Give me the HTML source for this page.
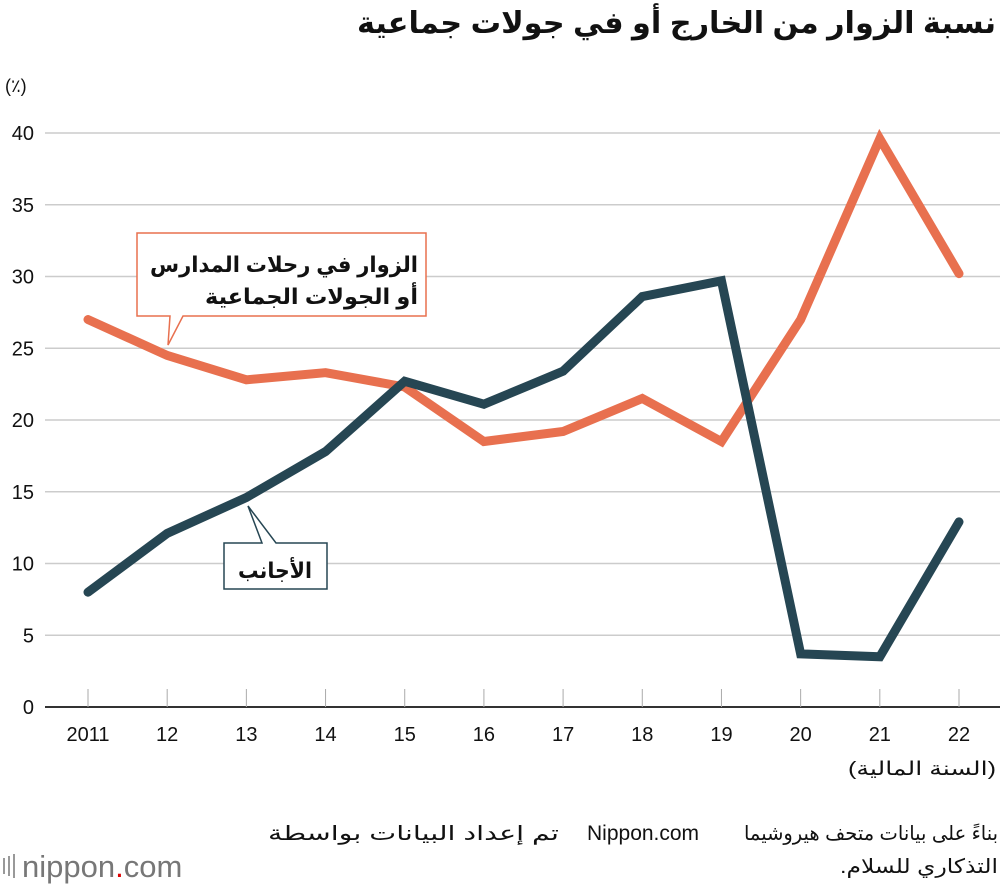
<!DOCTYPE html>
<html><head><meta charset="utf-8"><style>
html,body{margin:0;padding:0;background:#fff;}
body{width:1000px;height:890px;overflow:hidden;font-family:"Liberation Sans","DejaVu Sans",sans-serif;}
</style></head><body>
<svg id="c" width="1000" height="890" xmlns="http://www.w3.org/2000/svg" style="font-family:'Liberation Sans','DejaVu Sans',sans-serif">
<text x="996" y="33" text-anchor="start" direction="rtl" font-size="30" font-weight="bold" fill="#111" textLength="639" lengthAdjust="spacingAndGlyphs">نسبة الزوار من الخارج أو في جولات جماعية</text>
<text x="5" y="92" font-size="18" fill="#111">(٪)</text>
<g id="grid"></g><g id="lines"></g>
<g>
<path d="M137 233 H426 V316 H183 L168 345 L170 316 H137 Z" fill="#fff" stroke="#e8704f" stroke-width="1.5"/>
<text x="418" y="272" text-anchor="start" direction="rtl" font-size="22" font-weight="bold" fill="#111" textLength="268" lengthAdjust="spacingAndGlyphs">الزوار في رحلات المدارس</text>
<text x="418" y="304" text-anchor="start" direction="rtl" font-size="22" font-weight="bold" fill="#111" textLength="213" lengthAdjust="spacingAndGlyphs">أو الجولات الجماعية</text>
</g>
<g>
<path d="M224 543 H262 L248 506 L276 543 H327 V589 H224 Z" fill="#fff" stroke="#264653" stroke-width="1.5"/>
<text x="312" y="578" text-anchor="start" direction="rtl" font-size="22" font-weight="bold" fill="#111" textLength="74" lengthAdjust="spacingAndGlyphs">الأجانب</text>
</g>
<text x="996" y="775" text-anchor="start" direction="rtl" font-size="19" fill="#111" textLength="148" lengthAdjust="spacingAndGlyphs">(السنة المالية)</text>
<g font-size="20" fill="#111">
<text x="998" y="840" text-anchor="start" direction="rtl" textLength="254" lengthAdjust="spacingAndGlyphs">بناءً على بيانات متحف هيروشيما</text>
<text x="587" y="840" font-size="21">Nippon.com</text>
<text x="559" y="840" text-anchor="start" direction="rtl" textLength="291" lengthAdjust="spacingAndGlyphs">تم إعداد البيانات بواسطة</text>
<text x="998" y="873" text-anchor="start" direction="rtl" textLength="158" lengthAdjust="spacingAndGlyphs">التذكاري للسلام.</text>
</g>
<g>
<rect x="3" y="858" width="2" height="16" fill="#999"/><rect x="8" y="856" width="2" height="20" fill="#999"/><rect x="13" y="854" width="2" height="24" fill="#999"/>
<text x="22" y="877" font-size="31" fill="#777">nippon<tspan fill="#d00">.</tspan>com</text>
</g>
</svg>
<script>
const years=["2011","12","13","14","15","16","17","18","19","20","21","22"];
const schoolValues=[27.0,24.5,22.8,23.3,22.3,18.5,19.2,21.5,18.5,27.0,39.6,30.2];
const foreignValues=[8.0,12.1,14.6,17.8,22.7,21.1,23.4,28.6,29.7,3.7,3.5,12.9];
const yTicks=[0,5,10,15,20,25,30,35,40];
const NS="http://www.w3.org/2000/svg";
const xS=i=>88+i*(959-88)/11;
const yS=v=>707-v*(707-133)/40;
const grid=document.getElementById('grid'),lines=document.getElementById('lines');
function mk(t,a,p){const e=document.createElementNS(NS,t);for(const k in a)e.setAttribute(k,a[k]);p.appendChild(e);return e;}
yTicks.forEach(v=>{
  const l=mk('line',{x1:45,x2:1000,y1:yS(v),y2:yS(v),stroke:v===0?'#333':'#ccc','stroke-width':v===0?2:1.5},grid);
  
  
  const t=mk('text',{x:34,y:yS(v)+7,'text-anchor':'end','font-size':20,fill:'#111'},grid);
  t.textContent=v;
  
  
});
years.forEach((y,i)=>{
  const tk=mk('line',{x1:xS(i),x2:xS(i),y1:yS(0)-18,y2:yS(0),stroke:'#aaa','stroke-width':1},grid);
  
  
  const t=mk('text',{x:xS(i),y:741,'text-anchor':'middle','font-size':20,fill:'#111'},grid);
  t.textContent=y;
  
  
});
function line(vals,color,name){
  const p=mk('polyline',{points:vals.map((v,i)=>xS(i)+','+yS(v)).join(' '),fill:'none',stroke:color,'stroke-width':9,'stroke-linejoin':'miter','stroke-linecap':'round'},lines);
  
  
}
line(schoolValues,'#e8704f','school-tour-line');
line(foreignValues,'#264653','foreign-visitors-line');
</script>
</body></html>
